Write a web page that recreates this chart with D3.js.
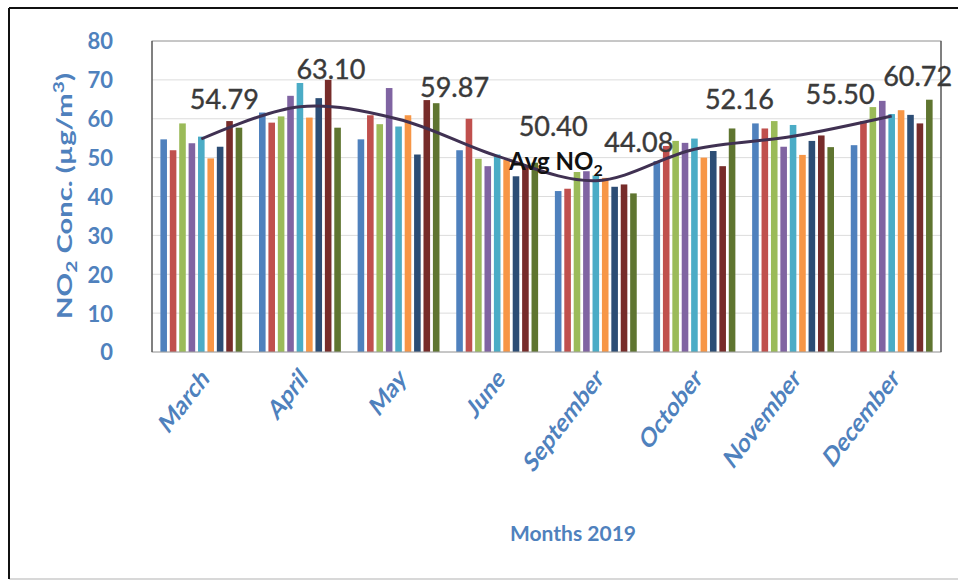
<!DOCTYPE html>
<html lang="en">
<head>
    <meta charset="UTF-8">
    <title>NO2 Concentration 2019</title>
    <script src="https://d3js.org/d3.v7.min.js"></script>
    <style>
        body { margin: 0; background: #fff; font-family: Lato, "Open Sans", sans-serif; }
    </style>
</head>
<body>
    <div id="chart"></div>
    <script>
        // Data
        const months = ["March", "April", "May", "June", "September", "October", "November", "December"];
        const series1 = [54.7, 61.6, 54.7, 51.9, 41.4, 49.1, 58.8, 53.2];
        const series2 = [51.9, 59.0, 60.9, 60.0, 42.0, 53.0, 57.5, 59.4];
        const series3 = [58.8, 60.6, 58.6, 49.7, 46.3, 54.3, 59.4, 63.0];
        const series4 = [53.7, 65.9, 67.9, 47.8, 46.5, 53.8, 52.8, 64.6];
        const series5 = [55.4, 69.2, 58.0, 50.8, 45.4, 54.9, 58.4, 61.2];
        const series6 = [49.8, 60.3, 60.9, 49.4, 44.8, 50.0, 50.7, 62.2];
        const series7 = [52.8, 65.3, 50.8, 45.2, 42.5, 51.7, 54.3, 61.0];
        const series8 = [59.4, 70.0, 64.8, 47.8, 43.1, 47.8, 55.7, 58.8];
        const series9 = [57.7, 57.7, 64.0, 48.7, 40.8, 57.5, 52.7, 64.9];
        const avgNO2 = [54.79, 63.10, 59.87, 50.40, 44.08, 52.16, 55.50, 60.72];
        const yTicks = [0, 10, 20, 30, 40, 50, 60, 70, 80];

        const allSeries = [series1, series2, series3, series4, series5, series6, series7, series8, series9];
        const colors = ["#4F81BD", "#C0504D", "#9BBB59", "#8064A2", "#4BACC6", "#F79646", "#2C4D75", "#772C2A", "#5F7530"];
        // manual nudges of the average labels (px, from the line point)
        const labelNudge = [[23, -30], [31, -28], [56, -22], [56, -20], [43, -29], [45, -40], [47, -32], [26, -30]];

        const W = 958, H = 582;
        const plot = { left: 152, right: 941, top: 41, bottom: 352 };
        const blue = "#4F81BD";

        const svg = d3.select("#chart").append("svg")
            .attr("width", W).attr("height", H);

        // outer frame
        svg.append("line").attr("x1", 9).attr("x2", 958).attr("y1", 579).attr("y2", 579)
            .attr("stroke", "#d8d8d8").attr("stroke-width", 2);
        svg.append("line").attr("x1", 9).attr("x2", 9).attr("y1", 8).attr("y2", 579)
            .attr("stroke", "#111").attr("stroke-width", 2);
        svg.append("line").attr("x1", 9).attr("x2", 958).attr("y1", 8).attr("y2", 8)
            .attr("stroke", "#111").attr("stroke-width", 2);

        const x0 = d3.scaleBand().domain(months).range([plot.left, plot.right])
            .paddingInner(0.17).paddingOuter(0.085);
        const x1 = d3.scaleBand().domain(d3.range(allSeries.length)).range([0, x0.bandwidth()])
            .paddingInner(0.3);
        const y = d3.scaleLinear().domain([0, 80]).range([plot.bottom, plot.top]);

        // gridlines
        svg.append("g").selectAll("line").data(yTicks).join("line")
            .attr("x1", plot.left).attr("x2", plot.right)
            .attr("y1", d => y(d)).attr("y2", d => y(d))
            .attr("stroke", "#dcdcdc").attr("stroke-width", 1);

        // bars
        svg.append("g").selectAll("g").data(months).join("g")
            .attr("transform", m => `translate(${x0(m)},0)`)
            .selectAll("rect")
            .data((m, i) => allSeries.map((s, k) => ({ k: k, v: s[i] })))
            .join("rect")
            .attr("x", d => x1(d.k))
            .attr("width", x1.bandwidth())
            .attr("y", d => y(d.v))
            .attr("height", d => y(0) - y(d.v))
            .attr("fill", d => colors[d.k]);

        // plot frame
        svg.append("rect")
            .attr("x", plot.left).attr("y", plot.top)
            .attr("width", plot.right - plot.left).attr("height", plot.bottom - plot.top)
            .attr("fill", "none").attr("stroke", "#a0a0a0");
        svg.append("line").attr("x1", plot.left).attr("x2", plot.left).attr("y1", plot.top).attr("y2", plot.bottom)
            .attr("stroke", "#333");
        svg.append("line").attr("x1", plot.right).attr("x2", plot.right).attr("y1", plot.top).attr("y2", plot.bottom)
            .attr("stroke", "#333");

        // y axis
        const yAxis = svg.append("g")
            .attr("transform", `translate(${plot.left},0)`)
            .call(d3.axisLeft(y).tickValues(yTicks).tickSize(0).tickPadding(39));
        yAxis.select(".domain").remove();
        yAxis.selectAll("text")
            .attr("fill", blue).attr("font-size", 22).attr("font-weight", 700)
            .attr("font-family", "Lato, sans-serif").attr("dy", "0.36em");

        // x axis labels (slanted and stretched like the source picture)
        const xAxis = svg.append("g")
            .attr("transform", `translate(0,${plot.bottom})`)
            .call(d3.axisBottom(x0).tickSize(0).tickPadding(0));
        xAxis.select(".domain").remove();
        xAxis.selectAll("text")
            .attr("fill", blue).attr("font-size", 21).attr("font-weight", 700)
            .attr("font-family", "Lato, sans-serif")
            .attr("text-anchor", "end")
            .attr("dy", 0).attr("y", 0)
            .attr("transform", "translate(9,28) scale(1,1.3) rotate(-45)");

        // average line
        const cx = m => x0(m) + x0.bandwidth() / 2;
        const line = d3.line().x((d, i) => cx(months[i])).y(d => y(d)).curve(d3.curveCatmullRom.alpha(0.5));
        svg.append("path").datum(avgNO2)
            .attr("d", line)
            .attr("fill", "none").attr("stroke", "#403152").attr("stroke-width", 3);

        svg.append("g").selectAll("text").data(avgNO2).join("text")
            .attr("x", (d, i) => cx(months[i]) + labelNudge[i][0])
            .attr("y", (d, i) => y(d) + labelNudge[i][1])
            .attr("text-anchor", "middle")
            .attr("font-size", 27).attr("font-family", "Lato, sans-serif")
            .attr("fill", "#3a3a3a").attr("stroke", "#3a3a3a").attr("stroke-width", 0.4)
            .text(d => d.toFixed(2));

        const avgLabel = svg.append("text")
            .attr("x", 509).attr("y", 170)
            .attr("font-size", 24).attr("font-weight", 700).attr("font-family", "Lato, sans-serif")
            .attr("fill", "#111");
        avgLabel.append("tspan").text("Avg NO");
        avgLabel.append("tspan").attr("font-size", 16).attr("dy", 6).text("2");

        // y axis title, stretched along its length to span like the source
        const yTitle = svg.append("text")
            .attr("text-anchor", "middle")
            .attr("font-size", 21).attr("font-weight", 700).attr("font-family", "Lato, sans-serif")
            .attr("fill", blue);
        yTitle.append("tspan").text("NO");
        yTitle.append("tspan").attr("font-size", 15).attr("dy", 5).text("2");
        yTitle.append("tspan").attr("dy", -5).text(" Conc. (µg/m");
        yTitle.append("tspan").attr("font-size", 15).attr("dy", -8).text("3");
        yTitle.append("tspan").attr("dy", 8).text(")");
        const titleLen = yTitle.node().getComputedTextLength() || 190;
        yTitle.attr("transform", `translate(72,196) scale(1,${246 / titleLen}) rotate(-90)`);

        svg.append("text")
            .attr("x", 573).attr("y", 541)
            .attr("text-anchor", "middle")
            .attr("font-size", 21).attr("font-weight", 700).attr("font-family", "Lato, sans-serif")
            .attr("fill", blue)
            .text("Months 2019");
    </script>
</body>
</html>
